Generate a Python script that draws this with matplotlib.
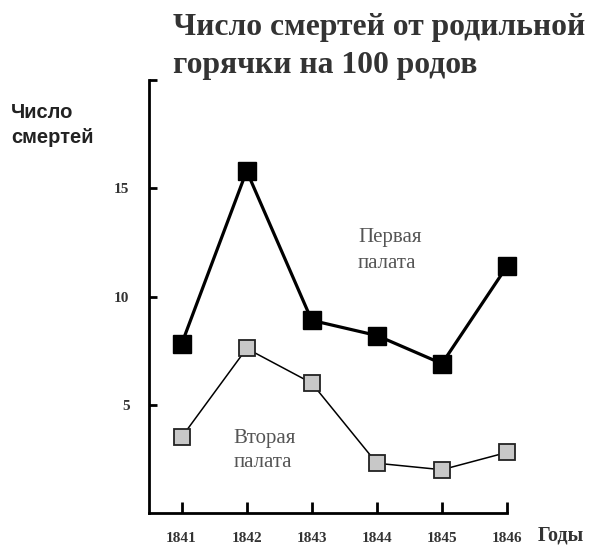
import numpy as np
import matplotlib.pyplot as plt

years = [1841, 1842, 1843, 1844, 1845, 1846]
first_ward = [7.8, 15.8, 8.9, 8.2, 6.9, 11.4]
second_ward = [3.5, 7.6, 6.0, 2.3, 2.0, 2.8]
y_ticks = [5, 10, 15, 20]
y_labels = ['5', '10', '15', '']

serif = ['Liberation Serif', 'DejaVu Serif']
sans = ['Liberation Sans', 'DejaVu Sans']

W, H = 593, 546
fig = plt.figure(figsize=(W / 100, H / 100), dpi=100)
ax = fig.add_axes([0.2513, 0.0604, 0.6037, 0.793])

ax.plot(years, first_ward, color='black', lw=2.3, marker='s', ms=13,
        mfc='black', mec='black', mew=1, zorder=3, clip_on=False)
ax.plot(years, second_ward, color='black', lw=1.1, marker='s', ms=12,
        mfc='#c8c8c8', mec='#222222', mew=1.3, zorder=3, clip_on=False)

ax.set_xlim(1840.5, 1846)
ax.set_ylim(0, 20)
ax.set_xticks(years)
ax.set_xticklabels([str(y) for y in years])
ax.set_yticks(y_ticks)
ax.set_yticklabels(y_labels)

for s in ['top', 'right']:
    ax.spines[s].set_visible(False)
for s in ['left', 'bottom']:
    ax.spines[s].set_linewidth(2)
    ax.spines[s].set_capstyle('projecting')

ax.tick_params(axis='both', direction='in', width=2, color='black')
ax.tick_params(axis='y', length=6, pad=14)
ax.tick_params(axis='x', length=8, pad=14)
for lab in ax.get_xticklabels() + ax.get_yticklabels():
    lab.set_family(serif)
    lab.set_fontweight('bold')
    lab.set_fontsize(11)
    lab.set_color('#333333')

# ward labels, one text per line
ax.text(1843.71, 12.5, 'Первая', family=serif, fontsize=15, color='#555555',
        va='baseline', ha='left')
ax.text(1843.71, 11.34, 'палата', family=serif, fontsize=15, color='#555555',
        va='baseline', ha='left')
ax.text(1841.8, 3.24, 'Вторая', family=serif, fontsize=15, color='#555555',
        va='baseline', ha='left')
ax.text(1841.8, 2.13, 'палата', family=serif, fontsize=15, color='#555555',
        va='baseline', ha='left')

fig.text(173 / W, 1 - 35 / H, 'Число смертей от родильной', family=serif,
         fontweight='bold', fontsize=22.8, color='#333333', va='baseline', ha='left')
fig.text(173 / W, 1 - 73 / H, 'горячки на 100 родов', family=serif,
         fontweight='bold', fontsize=22.8, color='#333333', va='baseline', ha='left')
fig.text(11 / W, 1 - 118 / H, 'Число', family=sans, fontweight='bold',
         fontsize=14.5, color='#222222', va='baseline', ha='left')
fig.text(11 / W, 1 - 143 / H, 'смертей', family=sans, fontweight='bold',
         fontsize=14.5, color='#222222', va='baseline', ha='left')
fig.text(538 / W, 1 - 541 / H, 'Годы', family=serif, fontweight='bold',
         fontsize=14.5, color='#333333', va='baseline', ha='left')

fig.savefig('out.png', dpi=100)
